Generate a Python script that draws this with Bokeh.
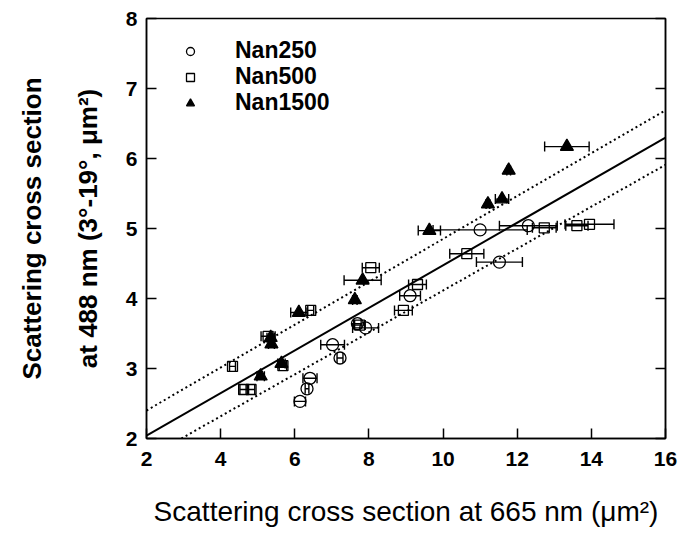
from bokeh.plotting import figure
from bokeh.models import ColumnDataSource, Whisker, TeeHead, LinearAxis, FixedTicker, Legend, LegendItem
from bokeh.embed import file_html
from bokeh.resources import INLINE

# ---- data ----
nan250_x = [6.14, 6.33, 6.41, 7.22, 7.02, 7.69, 7.91, 9.11, 11.00, 12.30, 11.52]
nan250_y = [2.53, 2.71, 2.86, 3.15, 3.34, 3.64, 3.58, 4.04, 4.98, 5.04, 4.52]
nan250_xerr = [0.15, 0.05, 0.19, 0.08, 0.32, 0.10, 0.35, 0.28, 1.27, 0.78, 0.62]

nan500_x = [4.32, 4.62, 4.82, 5.68, 5.28, 6.43, 8.05, 9.31, 8.93, 7.75, 10.64, 12.73, 13.61, 13.95]
nan500_y = [3.03, 2.70, 2.70, 3.04, 3.46, 3.83, 4.44, 4.20, 3.83, 3.62, 4.64, 5.01, 5.04, 5.06]
nan500_xerr = [0.08, 0.10, 0.10, 0.10, 0.19, 0.08, 0.23, 0.24, 0.24, 0.15, 0.46, 0.32, 0.30, 0.66]

nan1500_x = [5.08, 5.64, 5.37, 5.35, 6.11, 7.62, 7.83, 9.63, 11.21, 11.59, 11.77, 13.34]
nan1500_y = [2.89, 3.07, 3.35, 3.44, 3.80, 3.98, 4.26, 4.97, 5.35, 5.42, 5.83, 6.17]
nan1500_xerr = [0.10, 0.10, 0.08, 0.10, 0.22, 0.06, 0.50, 0.30, 0.05, 0.18, 0.05, 0.60]

# regression line and its confidence limits: (intercept, slope)
fit_x = [2, 16]
fit_names = ["fit", "upper", "lower"]
fit_intercepts = [1.431, 1.787, 1.120]
fit_slopes = [0.3043, 0.3064, 0.2994]

x_ticks = [2, 4, 6, 8, 10, 12, 14, 16]
y_ticks = [2, 3, 4, 5, 6, 7, 8]

FONT = "Liberation Sans"

p = figure(width=695, height=536, x_range=(2, 16), y_range=(2, 8),
           output_backend="svg", toolbar_location=None, title=None,
           min_border_left=146, min_border_right=30, min_border_top=18,
           min_border_bottom=98)
p.xgrid.visible = False
p.ygrid.visible = False
p.outline_line_color = "black"
p.outline_line_width = 1.5
p.outline_line_alpha = 1.0
p.background_fill_color = "white"
p.border_fill_color = "white"


def style_axis(ax, ticks, show_labels=True):
    ax.ticker = FixedTicker(ticks=ticks)
    ax.major_tick_in = 10
    ax.major_tick_out = 0
    ax.minor_tick_in = 0
    ax.minor_tick_out = 0
    ax.axis_line_color = "black"
    ax.axis_line_width = 1.5
    ax.major_tick_line_color = "black"
    ax.major_tick_line_width = 1.5
    ax.major_label_text_font = FONT
    ax.major_label_text_font_style = "bold"
    ax.major_label_text_font_size = "21px"
    ax.major_label_text_color = "black"
    if not show_labels:
        ax.major_label_text_font_size = "0px"
        ax.major_label_text_alpha = 0


style_axis(p.xaxis[0], x_ticks)
p.xaxis[0].major_label_standoff = 13

style_axis(p.yaxis[0], y_ticks)
p.yaxis[0].major_label_standoff = 9
p.yaxis[0].axis_label = "at 488 nm (3°-19°, μm²)"
p.yaxis[0].axis_label_text_font = FONT
p.yaxis[0].axis_label_text_font_style = "bold"
p.yaxis[0].axis_label_text_font_size = "26px"
p.yaxis[0].axis_label_text_color = "black"
p.yaxis[0].axis_label_standoff = 20

right_ax = LinearAxis()
style_axis(right_ax, y_ticks, show_labels=False)
p.add_layout(right_ax, "right")

left2 = LinearAxis(ticker=FixedTicker(ticks=[]), axis_line_color=None,
                   major_tick_in=0, major_tick_out=0, minor_tick_in=0, minor_tick_out=0,
                   axis_label="Scattering cross section",
                   axis_label_text_font=FONT, axis_label_text_font_style="bold",
                   axis_label_text_font_size="26px", axis_label_text_color="black",
                   axis_label_standoff=23, major_label_text_font_size="0px")
p.add_layout(left2, "left")

# x-axis title carried by a bare axis below the tick-label axis
below2 = LinearAxis(ticker=FixedTicker(ticks=[]), axis_line_color=None,
                    major_tick_in=0, major_tick_out=0, minor_tick_in=0, minor_tick_out=0,
                    axis_label="Scattering cross section at 665 nm (μm²)",
                    axis_label_text_font=FONT, axis_label_text_font_style="normal",
                    axis_label_text_font_size="28px", axis_label_text_color="black",
                    axis_label_standoff=27, major_label_text_font_size="0px")
p.add_layout(below2, "below")

# ---- fit lines ----
for name, b, m in zip(fit_names, fit_intercepts, fit_slopes):
    ys = [b + m * xv for xv in fit_x]
    if name == "fit":
        p.line(fit_x, ys, line_color="black", line_width=2)
    else:
        p.line(fit_x, ys, line_color="black", line_width=2, line_dash="2 3")

# ---- error bars + markers ----
series = [
    ("Nan250", nan250_x, nan250_y, nan250_xerr, "circle", 12, None),
    ("Nan500", nan500_x, nan500_y, nan500_xerr, "square", 10, None),
    ("Nan1500", nan1500_x, nan1500_y, nan1500_xerr, "triangle", 13, "black"),
]
legend_rows_px = [51, 77, 103]   # legend row centres, pixels below the canvas top
frame_bottom_px = 438
half_row = 13.2

for (label, xs, ys, xe, marker, size, fill), row in zip(series, legend_rows_px):
    src = ColumnDataSource(dict(x=xs, y=ys,
                                lo=[a - e for a, e in zip(xs, xe)],
                                hi=[a + e for a, e in zip(xs, xe)]))
    w = Whisker(base="y", lower="lo", upper="hi", dimension="width", source=src,
                line_color="black", line_width=1.4,
                upper_head=TeeHead(size=10, line_color="black", line_width=1.4),
                lower_head=TeeHead(size=10, line_color="black", line_width=1.4))
    p.add_layout(w)
    r = p.scatter("x", "y", source=src, marker=marker, size=size,
                  fill_color=fill, line_color="black", line_width=1.3)
    lg = Legend(items=[LegendItem(label=label, renderers=[r])],
                location=(34, frame_bottom_px - row - half_row),
                border_line_color=None, background_fill_alpha=0,
                padding=0, margin=0, spacing=0,
                glyph_width=20, glyph_height=20, label_height=20,
                label_standoff=35, label_text_font=FONT,
                label_text_font_style="bold", label_text_font_size="23px",
                label_text_color="black")
    p.add_layout(lg)

open("out.html", "w").write(file_html(p, INLINE))
